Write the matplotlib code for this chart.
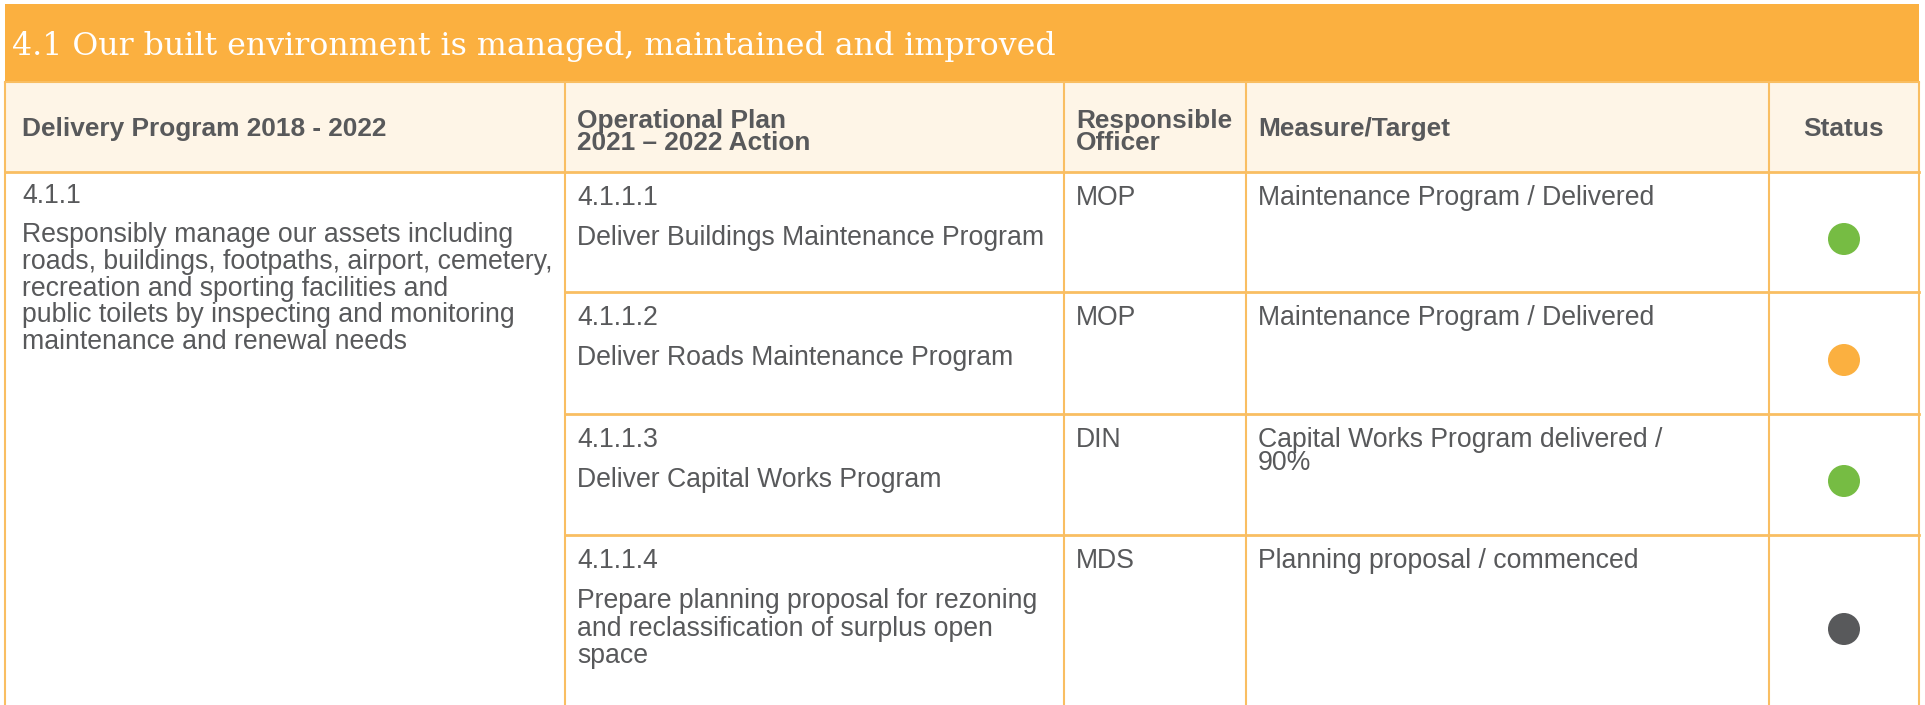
import matplotlib
matplotlib.use("Agg")
import matplotlib.pyplot as plt
from matplotlib.patches import Rectangle, Circle

title = "4.1 Our built environment is managed, maintained and improved"
headers = ["Delivery Program 2018 - 2022", "Operational Plan\n2021 – 2022 Action",
           "Responsible\nOfficer", "Measure/Target", "Status"]
program_code = "4.1.1"
program_text = ("Responsibly manage our assets including\nroads, buildings, footpaths, airport, cemetery,\n"
                "recreation and sporting facilities and\npublic toilets by inspecting and monitoring\n"
                "maintenance and renewal needs")
action_codes = ["4.1.1.1", "4.1.1.2", "4.1.1.3", "4.1.1.4"]
action_texts = ["Deliver Buildings Maintenance Program", "Deliver Roads Maintenance Program",
                "Deliver Capital Works Program",
                "Prepare planning proposal for rezoning\nand reclassification of surplus open\nspace"]
officers = ["MOP", "MOP", "DIN", "MDS"]
measures = ["Maintenance Program / Delivered", "Maintenance Program / Delivered",
            "Capital Works Program delivered /\n90%", "Planning proposal / commenced"]
status = ["green", "orange", "green", "grey"]

ORANGE = "#FBB040"
CREAM = "#FEF5E7"
BORDER = "#F9BE62"
TEXT = "#58595B"
status_colors = {"green": "#76BC43", "orange": "#FBB040", "grey": "#58595B"}

W, H = 1925, 705
fig = plt.figure(figsize=(W / 100, H / 100), dpi=100)
ax = fig.add_axes([0, 0, 1, 1])
ax.set_xlim(0, W)
ax.set_ylim(H, 0)
ax.axis("off")

col_x = [5, 565, 1064, 1246, 1769, 1919]
row_y = [82, 172, 292, 414, 535, 720]
left, right = col_x[0], col_x[-1]

FONT = "Liberation Sans"
FS = 19.2
HFS = 18.9

# title band
ax.add_patch(Rectangle((left, 4), right - left, row_y[0] - 4, facecolor=ORANGE, edgecolor="none"))
ax.text(left + 7, 46, title, color="white", fontsize=22.8, family="DejaVu Serif",
        va="center", ha="left")

# header row
ax.add_patch(Rectangle((left, row_y[0]), right - left, row_y[1] - row_y[0], facecolor=CREAM,
                       edgecolor="none"))
hy = (row_y[0] + row_y[1]) / 2 + 2
for i, h in enumerate(headers):
    yy = hy + (3 if "\n" in h else 0)
    if i == 4:
        ax.text((col_x[4] + col_x[5]) / 2, yy, h, color=TEXT, fontsize=HFS, family=FONT,
                weight="bold", ha="center", va="center")
    else:
        ax.text(col_x[i] + (17 if i == 0 else 12), yy, h, color=TEXT, fontsize=HFS, family=FONT,
                weight="bold", ha="left", va="center", linespacing=0.86)

# grid lines
lw = 1.5
for x in col_x:
    ax.plot([x, x], [row_y[0], H], color=BORDER, lw=lw, solid_capstyle="butt")
ax.plot([left, right], [row_y[0], row_y[0]], color=BORDER, lw=lw)
ax.plot([left, right], [row_y[1], row_y[1]], color=BORDER, lw=2)
for y in row_y[2:-1]:
    ax.plot([col_x[1], right], [y, y], color=BORDER, lw=2)

# first column
ax.text(col_x[0] + 17, row_y[1] + 11, program_code, color=TEXT, fontsize=FS, family=FONT,
        va="top", ha="left")
ax.text(col_x[0] + 17, row_y[1] + 50, program_text, color=TEXT, fontsize=FS, family=FONT,
        va="top", ha="left", linespacing=1.04)

for r in range(4):
    top = row_y[r + 1]
    ax.text(col_x[1] + 12, top + 13, action_codes[r], color=TEXT, fontsize=FS, family=FONT,
            va="top", ha="left")
    ax.text(col_x[1] + 12, top + 53, action_texts[r], color=TEXT, fontsize=FS, family=FONT,
            va="top", ha="left", linespacing=1.08)
    ax.text(col_x[2] + 12, top + 13, officers[r], color=TEXT, fontsize=FS, family=FONT,
            va="top", ha="left")
    ax.text(col_x[3] + 12, top + 13, measures[r], color=TEXT, fontsize=FS, family=FONT,
            va="top", ha="left", linespacing=0.87)

dot_y = [239, 360, 481, 629]
for r in range(4):
    ax.add_patch(Circle(((col_x[4] + col_x[5]) / 2, dot_y[r]), 16,
                        facecolor=status_colors[status[r]], edgecolor="none"))

fig.savefig("out.png", dpi=100, facecolor="white")
